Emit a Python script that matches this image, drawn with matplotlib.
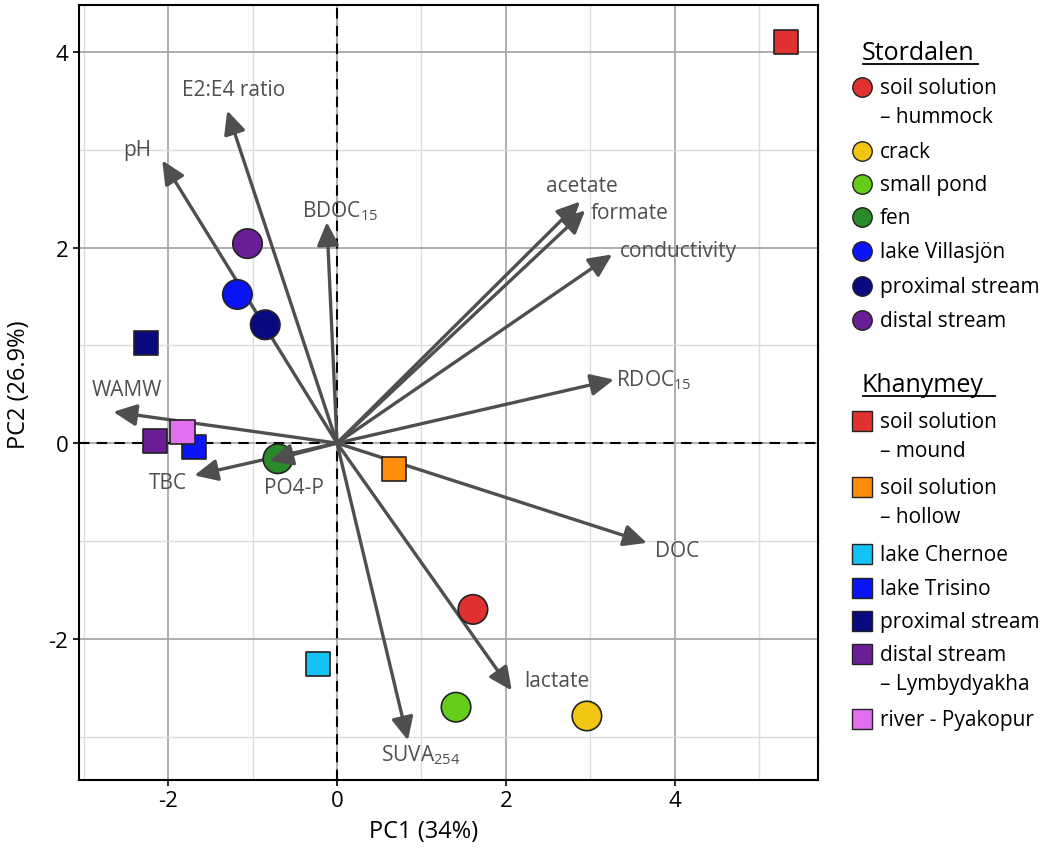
import numpy as np
import matplotlib.pyplot as plt

plt.rcParams['font.family'] = ['Open Sans', 'DejaVu Sans']
plt.rcParams['mathtext.fontset'] = 'custom'
plt.rcParams['mathtext.rm'] = 'Open Sans'
plt.rcParams['mathtext.it'] = 'Open Sans'
plt.rcParams['axes.unicode_minus'] = False

# Stordalen sites (circles)
stor_labels = ["soil solution\n– hummock", "crack", "small pond", "fen",
               "lake Villasjön", "proximal stream", "distal stream"]
stor_colors = ["#e03030", "#f2c613", "#66cc1a", "#2a8a2a",
               "#0a14f5", "#0a0a80", "#6a1e96"]
stor_pc1 = [1.61, 2.96, 1.41, -0.70, -1.18, -0.85, -1.06]
stor_pc2 = [-1.70, -2.79, -2.70, -0.16, 1.52, 1.21, 2.04]

# Khanymey sites (squares)
khan_labels = ["soil solution\n– mound", "soil solution\n– hollow", "lake Chernoe",
               "lake Trisino", "proximal stream", "distal stream\n– Lymbydyakha",
               "river - Pyakopur"]
khan_colors = ["#e03030", "#ff8c0a", "#14c3f5", "#0a14f5",
               "#0a0a80", "#6a1e96", "#e070f0"]
khan_pc1 = [5.32, 0.67, -0.23, -1.69, -2.26, -2.16, -1.83]
khan_pc2 = [4.10, -0.26, -2.26, -0.04, 1.02, 0.02, 0.11]

# loadings (arrow tips) and label positions
var_names = ["E2:E4 ratio", "pH", r"BDOC$_{\mathrm{15}}$", "WAMW", "TBC", "PO4-P",
             r"SUVA$_{\mathrm{254}}$", "lactate", "DOC", r"RDOC$_{\mathrm{15}}$",
             "conductivity", "formate", "acetate"]
load_pc1 = [-1.30, -2.07, -0.12, -2.65, -1.69, -0.80, 0.84, 2.07, 3.67, 3.28, 3.26, 2.94, 2.88]
load_pc2 = [3.40, 2.89, 2.26, 0.32, -0.33, -0.18, -3.04, -2.53, -1.02, 0.65, 1.93, 2.38, 2.47]
lab_x = [-1.23, -2.37, 0.04, -2.49, -2.00, -0.51, 0.99, 2.61, 4.03, 3.75, 4.05, 3.47, 2.90]
lab_y = [3.62, 3.00, 2.38, 0.55, -0.40, -0.45, -3.18, -2.43, -1.10, 0.65, 1.97, 2.36, 2.63]

fig = plt.figure(figsize=(10.49, 8.54), dpi=100)
ax = fig.add_axes([0.075, 0.086, 0.705, 0.907])

ax.set_xlim(-3.06, 5.70)
ax.set_ylim(-3.44, 4.48)
ax.set_xticks([-2, 0, 2, 4])
ax.set_yticks([-2, 0, 2, 4])
ax.set_xticks([-3, -1, 1, 3, 5], minor=True)
ax.set_yticks([-3, -1, 1, 3], minor=True)
ax.grid(which='major', color='#a8a8a8', linewidth=1.3)
ax.grid(which='minor', color='#dcdcdc', linewidth=1.0)
ax.tick_params(which='minor', length=0)
ax.tick_params(which='major', labelsize=16, length=4, width=1.2, color='black')
ax.set_axisbelow(True)
for s in ax.spines.values():
    s.set_linewidth(1.5)

ax.axhline(0, color='black', linestyle=(0, (5, 3.5)), linewidth=1.5, zorder=1)
ax.axvline(0, color='black', linestyle=(0, (5, 3.5)), linewidth=1.5, zorder=1)

ax.set_xlabel("PC1 (34%)", fontsize=17)
ax.set_ylabel("PC2 (26.9%)", fontsize=17)
ax.xaxis.set_label_coords(0.467, -0.051)
ax.yaxis.set_label_coords(-0.064, 0.511)

for name, x, y, tx, ty in zip(var_names, load_pc1, load_pc2, lab_x, lab_y):
    # short arrows end inside a marker and are drawn on top of it
    z = 5 if np.hypot(x, y) < 1 else 2
    ax.annotate("", xy=(x, y), xytext=(0, 0),
                arrowprops=dict(arrowstyle="-|>,head_length=0.7,head_width=0.33",
                                color='#4f4f4f', lw=2.4, shrinkA=0, shrinkB=0,
                                mutation_scale=20), zorder=z)
    ax.text(tx, ty, name, color='#4f4f4f', fontsize=15, ha='center', va='center', zorder=6)

ax.scatter(stor_pc1, stor_pc2, s=450, c=stor_colors, marker='o',
           edgecolors='#222222', linewidths=1.2, zorder=4)
ax.scatter(khan_pc1, khan_pc2, s=300, c=khan_colors, marker='s',
           edgecolors='#222222', linewidths=1.2, zorder=4)

# legend drawn in pixel space on the right
lax = fig.add_axes([0, 0, 1, 1])
lax.set_xlim(0, 1049)
lax.set_ylim(854, 0)
lax.axis('off')

mx, tx = 862, 880


def legend_rows(labels, colors, rows, marker, ms):
    for lab, col, yy in zip(labels, colors, rows):
        lax.plot(mx, yy, marker=marker, ms=ms, mfc=col, mec='#222222', mew=1.0)
        for i, line in enumerate(lab.split("\n")):
            lax.text(tx, yy + 6 + 29 * i, line, fontsize=15, va='baseline', ha='left')


lax.text(862, 60, "Stordalen", fontsize=18, va='baseline', ha='left')
lax.plot([863, 978], [65, 65], color='black', lw=1.3)
legend_rows(stor_labels, stor_colors, [88, 152, 185, 218, 252, 287, 321], 'o', 14)

lax.text(862, 392, "Khanymey", fontsize=18, va='baseline', ha='left')
lax.plot([863, 995], [397, 397], color='black', lw=1.3)
legend_rows(khan_labels, khan_colors, [422, 488, 555, 589, 622, 655, 720], 's', 14)

fig.savefig("out.png", dpi=100)
